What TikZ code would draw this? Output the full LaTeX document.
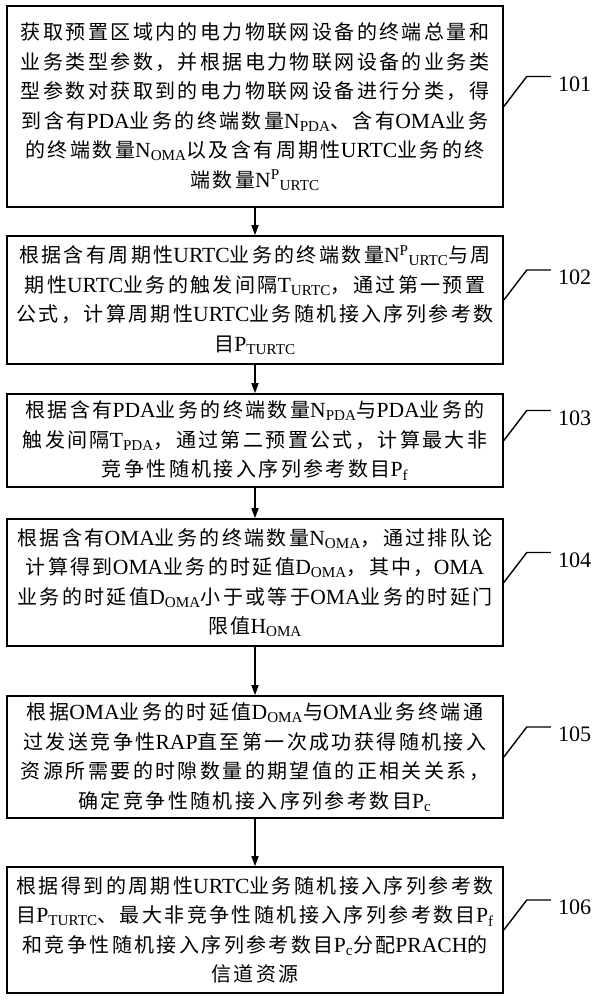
\documentclass[tikz,border=0pt]{standalone}
\usepackage{fontspec}
\setmainfont{Noto Sans CJK SC}[LetterSpace=12]
\newfontfamily\lat{Liberation Serif}[Scale=1.08]
\newcommand\E[1]{{\lat #1}}
\newcommand\dn[1]{\textsubscript{\lat #1}}
\newcommand\up[1]{\textsuperscript{\lat #1}}
\usetikzlibrary{arrows.meta}
\tikzset{
  stepbox/.style={draw, line width=1.6pt, minimum width=496pt, text width=492pt,
    align=center, inner sep=0pt, font=\fontsize{20}{29.5}\selectfont},
  flow/.style={line width=1.5pt, -{Triangle[length=10pt,width=7pt]}},
  tag/.style={line width=1.4pt},
  num/.style={anchor=north west, inner sep=0pt, font=\lat\fontsize{20.5}{20.5}\selectfont}
}
\begin{document}
\begin{tikzpicture}[x=1pt,y=-1pt]
\useasboundingbox (0,0) rectangle (595,1000);
\node[stepbox, minimum height=201pt] (b1) at (255,106.5) {获取预置区域内的电力物联网设备的终端总量和\\业务类型参数，并根据电力物联网设备的业务类\\型参数对获取到的电力物联网设备进行分类，得\\到含有\E{PDA}业务的终端数量\E{N}\dn{PDA}、含有\E{OMA}业务\\的终端数量\E{N}\dn{OMA}以及含有周期性\E{URTC}业务的终\\端数量\E{N}\up{P}\dn{URTC}};
\node[stepbox, minimum height=128pt] (b2) at (255,300) {根据含有周期性\E{URTC}业务的终端数量\E{N}\up{P}\dn{URTC}与周\\期性\E{URTC}业务的触发间隔\E{T}\dn{URTC}，通过第一预置\\公式，计算周期性\E{URTC}业务随机接入序列参考数\\目\E{P}\dn{TURTC}};
\node[stepbox, minimum height=93pt] (b3) at (255,440.5) {根据含有\E{PDA}业务的终端数量\E{N}\dn{PDA}与\E{PDA}业务的\\触发间隔\E{T}\dn{PDA}，通过第二预置公式，计算最大非\\竞争性随机接入序列参考数目\E{P}\dn{f}};
\node[stepbox, minimum height=127pt] (b4) at (255,582.5) {根据含有\E{OMA}业务的终端数量\E{N}\dn{OMA}，通过排队论\\计算得到\E{OMA}业务的时延值\E{D}\dn{OMA}，其中，\E{OMA}\\业务的时延值\E{D}\dn{OMA}小于或等于\E{OMA}业务的时延门\\限值\E{H}\dn{OMA}};
\node[stepbox, minimum height=122pt] (b5) at (255,757) {根据\E{OMA}业务的时延值\E{D}\dn{OMA}与\E{OMA}业务终端通\\过发送竞争性\E{RAP}直至第一次成功获得随机接入\\资源所需要的时隙数量的期望值的正相关关系，\\确定竞争性随机接入序列参考数目\E{P}\dn{c}};
\node[stepbox, minimum height=126pt] (b6) at (255,930) {根据得到的周期性\E{URTC}业务随机接入序列参考数\\目\E{P}\dn{TURTC}、最大非竞争性随机接入序列参考数目\E{P}\dn{f}\\和竞争性随机接入序列参考数目\E{P}\dn{c}分配\E{PRACH}的\\信道资源};
\foreach \a/\b in {b1/b2,b2/b3,b3/b4,b4/b5,b5/b6}
  \draw[flow] (\a.south) -- (\b.north);
\foreach \b/\n in {b1/101,b2/102,b3/103,b4/104,b5/105,b6/106}{
  \node[num] (n\n) at ([shift={(54,-30)}]\b.east) {\n};
  \draw[tag] (\b.east) -- ++(23,-30) -- ([xshift=-7pt]n\n.north west);
}
\end{tikzpicture}
\end{document}
